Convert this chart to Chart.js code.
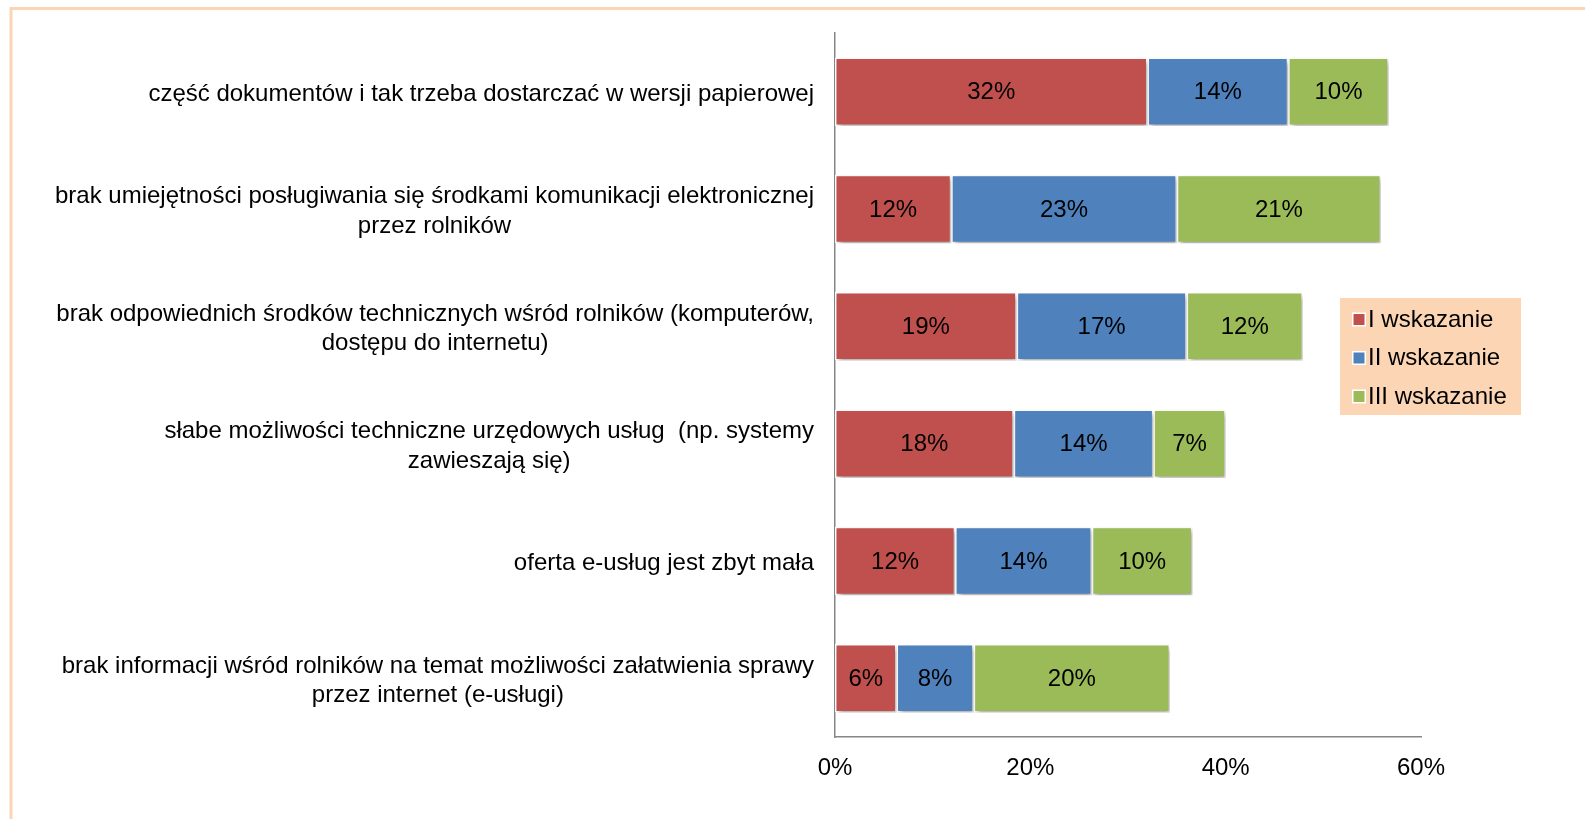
<!DOCTYPE html>
<html>
<head>
<meta charset="utf-8">
<script src="https://cdn.jsdelivr.net/npm/chart.js@4"></script>
<style>
  html, body { margin: 0; padding: 0; background: #fff; }
  #wrap { position: relative; width: 1585px; height: 819px; }
</style>
</head>
<body>
<div id="wrap"><canvas id="myChart" width="1585" height="819"></canvas></div>
<script>
  const categories = [
    ['część dokumentów i tak trzeba dostarczać w wersji papierowej'],
    ['brak umiejętności posługiwania się środkami komunikacji elektronicznej', 'przez rolników'],
    ['brak odpowiednich środków technicznych wśród rolników (komputerów,', 'dostępu do internetu)'],
    ['słabe możliwości techniczne urzędowych usług  (np. systemy', 'zawieszają się)'],
    ['oferta e-usług jest zbyt mała'],
    ['brak informacji wśród rolników na temat możliwości załatwienia sprawy', 'przez internet (e-usługi)']
  ];
  const seriesNames = ['I wskazanie', 'II wskazanie', 'III wskazanie'];
  const firstChoice = [32.0, 11.9, 18.6, 18.3, 12.3, 6.3];
  const secondChoice = [14.4, 23.1, 17.4, 14.3, 14.0, 7.9];
  const thirdChoice = [10.3, 20.9, 11.9, 7.4, 10.3, 20.1];
  const xTicks = [0, 20, 40, 60];

  const colors = ['#C0504D', '#4F81BD', '#9BBB59'];
  const FAMILY = '"Liberation Sans", Arial, sans-serif';
  const FONT = '24px ' + FAMILY;

  const data = {
    labels: categories,
    datasets: [firstChoice, secondChoice, thirdChoice].map((vals, i) => ({
      label: seriesNames[i],
      data: vals,
      backgroundColor: colors[i],
      borderColor: '#ffffff',
      borderWidth: 1.5,
      borderSkipped: false,
      categoryPercentage: 0.8,
      barPercentage: 0.73
    }))
  };

  // frame + category labels + legend
  const decor = {
    id: 'decor',
    beforeDraw(chart) {
      const { ctx } = chart;
      ctx.save();
      ctx.strokeStyle = '#FBD5B5';
      ctx.lineWidth = 3;
      ctx.strokeRect(11, 8.5, 1700, 1000);
      ctx.restore();
    },
    afterDraw(chart) {
      const { ctx, scales: { y } } = chart;
      ctx.save();
      ctx.font = FONT;
      ctx.fillStyle = '#000';
      ctx.textAlign = 'center';
      ctx.textBaseline = 'middle';
      const right = 814, lh = 29.5;
      chart.data.labels.forEach((lines, i) => {
        const w = Math.max(...lines.map(l => ctx.measureText(l).width));
        const cy = y.getPixelForTick(i);
        const y0 = cy - (lines.length - 1) * lh / 2;
        lines.forEach((l, j) => ctx.fillText(l, right - w / 2, y0 + j * lh + 2.5));
      });

      // legend box
      ctx.fillStyle = '#FCD5B4';
      ctx.fillRect(1340, 298, 181, 117);
      ctx.textAlign = 'left';
      chart.data.datasets.forEach((ds, i) => {
        const cy = 319 + i * 38.5;
        ctx.fillStyle = '#fff';
        ctx.fillRect(1352, cy - 6.5, 14, 14);
        ctx.fillStyle = ds.backgroundColor;
        ctx.fillRect(1353.5, cy - 5, 11, 11);
        ctx.fillStyle = '#000';
        ctx.fillText(ds.label, 1368, cy + 1);
      });
      ctx.restore();
    }
  };

  // shadow under bars, values inside
  const barExtras = {
    id: 'barExtras',
    beforeDatasetsDraw(chart) {
      const { ctx } = chart;
      ctx.save();
      ctx.shadowColor = 'rgba(0,0,0,0.35)';
      ctx.shadowBlur = 5;
      ctx.shadowOffsetX = 2;
      ctx.shadowOffsetY = 3;
    },
    afterDatasetsDraw(chart) {
      const { ctx } = chart;
      ctx.restore();
      ctx.save();
      ctx.font = FONT;
      ctx.fillStyle = '#000';
      ctx.textAlign = 'center';
      ctx.textBaseline = 'middle';
      chart.data.datasets.forEach((ds, i) => {
        chart.getDatasetMeta(i).data.forEach((bar, j) => {
          ctx.fillText(Math.round(ds.data[j]) + '%', (bar.x + bar.base) / 2, bar.y + 1);
        });
      });
      ctx.restore();
    }
  };

  const config = {
    type: 'bar',
    data,
    options: {
      indexAxis: 'y',
      responsive: false,
      animation: false,
      layout: { padding: { left: 835, right: 164, top: 33, bottom: 0 } },
      scales: {
        x: {
          stacked: true,
          min: 0,
          max: 60,
          afterBuildTicks: s => { s.ticks = xTicks.map(v => ({ value: v })); },
          afterFit: s => { s.height = 82; },
          grid: { display: false, drawTicks: false },
          border: { display: true, color: '#868686', width: 1.5 },
          ticks: {
            padding: 17,
            color: '#000',
            font: { family: FAMILY, size: 24 },
            callback: v => v + '%'
          }
        },
        y: {
          stacked: true,
          afterFit: s => { s.width = 0; },
          grid: { display: false, drawTicks: false },
          border: { display: true, color: '#868686', width: 1.5 },
          ticks: { display: false }
        }
      },
      plugins: {
        legend: { display: false },
        tooltip: { enabled: false }
      }
    },
    plugins: [decor, barExtras]
  };

  const myChart = new Chart(document.getElementById('myChart'), config);
</script>
</body>
</html>
